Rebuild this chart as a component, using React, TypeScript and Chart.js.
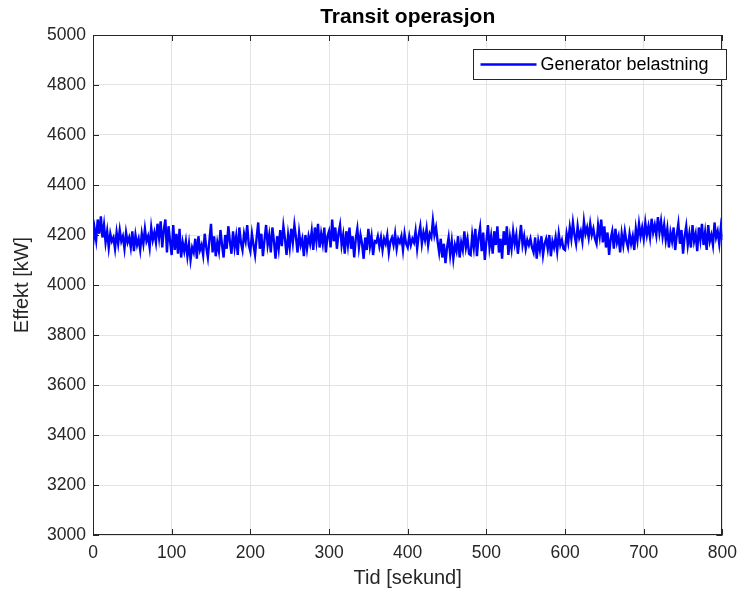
import React, { useEffect, useRef } from "react";
import { Chart, registerables } from "chart.js";

Chart.register(...registerables);

// Generator load, sampled every 2 seconds from 0 to 800 s
const SAMPLE_INTERVAL = 2;
const LOAD_KW: number[] = [
  4160, 4225, 4180, 4262, 4205, 4275, 4190, 4240, 4170, 4215, 4150, 4205, 4175, 4190, 4145, 4210, 4165, 4220, 4175, 4195,
  4145, 4210, 4170, 4190, 4150, 4215, 4135, 4200, 4160, 4185, 4140, 4205, 4165, 4225, 4175, 4195, 4150, 4230, 4180, 4210,
  4170, 4245, 4190, 4255, 4150, 4220, 4262, 4130, 4235, 4175, 4120, 4240, 4140, 4205, 4125, 4225, 4110, 4170, 4135, 4175,
  4115, 4165, 4100, 4150, 4130, 4185, 4105, 4195, 4140, 4160, 4120, 4205, 4150, 4110, 4180, 4245, 4130, 4195, 4115, 4170,
  4135, 4220, 4160, 4110, 4200, 4145, 4235, 4175, 4125, 4215, 4150, 4195, 4120, 4230, 4170, 4140, 4205, 4175, 4240, 4160,
  4135, 4205, 4160, 4120, 4190, 4250, 4145, 4205, 4115, 4180, 4240, 4160, 4200, 4130, 4230, 4175, 4105, 4195, 4145, 4220,
  4155, 4235, 4185, 4120, 4200, 4150, 4225, 4170, 4240, 4190, 4130, 4210, 4160, 4185, 4115, 4200, 4145, 4195, 4165, 4215,
  4140, 4230, 4175, 4245, 4150, 4205, 4165, 4230, 4130, 4195, 4215, 4150, 4262, 4175, 4230, 4145, 4205, 4240, 4160, 4200,
  4125, 4215, 4160, 4230, 4145, 4195, 4110, 4185, 4225, 4150, 4200, 4165, 4105, 4190, 4140, 4225, 4155, 4195, 4120, 4175,
  4170, 4195, 4155, 4190, 4140, 4185, 4165, 4200, 4130, 4175, 4190, 4160, 4205, 4145, 4185, 4170, 4195, 4140, 4205, 4165,
  4150, 4195, 4160, 4185, 4170, 4215, 4145, 4200, 4235, 4165, 4210, 4180, 4225, 4160, 4205, 4190, 4258, 4200, 4230, 4175,
  4130, 4185, 4110, 4165, 4087, 4150, 4190, 4120, 4175, 4105, 4160, 4135, 4195, 4110, 4170, 4140, 4215, 4150, 4185, 4125,
  4120, 4200, 4150, 4225, 4115, 4190, 4230, 4135, 4210, 4100, 4175, 4240, 4150, 4195, 4125, 4215, 4160, 4235, 4130, 4185,
  4105, 4215, 4160, 4235, 4120, 4190, 4145, 4215, 4165, 4200, 4125, 4180, 4240, 4160, 4195, 4145, 4180, 4160, 4185, 4150,
  4130, 4190, 4105, 4175, 4140, 4195, 4120, 4165, 4185, 4145, 4200, 4115, 4175, 4150, 4190, 4135, 4205, 4160, 4180, 4145,
  4140, 4205, 4170, 4230, 4185, 4250, 4200, 4165, 4235, 4190, 4215, 4175, 4255, 4205, 4230, 4190, 4245, 4200, 4225, 4185,
  4165, 4240, 4195, 4262, 4170, 4235, 4150, 4210, 4120, 4185, 4215, 4145, 4225, 4170, 4195, 4130, 4205, 4160, 4215, 4175,
  4150, 4205, 4165, 4195, 4140, 4225, 4180, 4245, 4195, 4230, 4185, 4250, 4200, 4235, 4190, 4265, 4210, 4240, 4200, 4272,
  4210, 4255, 4195, 4240, 4180, 4225, 4150, 4210, 4175, 4230, 4140, 4200, 4245, 4165, 4220, 4125, 4195, 4235, 4160, 4205,
  4150, 4240, 4175, 4205, 4135, 4230, 4180, 4245, 4160, 4210, 4140, 4240, 4175, 4200, 4160, 4250, 4190, 4215, 4165, 4230,
  4180,
];

const X_TICKS: number[] = [0, 100, 200, 300, 400, 500, 600, 700, 800];
const Y_TICKS: number[] = [3000, 3200, 3400, 3600, 3800, 4000, 4200, 4400, 4600, 4800, 5000];

const TITLE = "Transit operasjon";
const X_TITLE = "Tid [sekund]";
const Y_TITLE = "Effekt [kW]";
const SERIES_NAME = "Generator belastning";

const FONT = "'Liberation Sans', Arial, Helvetica, sans-serif";
const INK = "#262626";
const LINE_BLUE = "#0000ff";

// Title, boxed frame with inward tick marks, and legend
const decorations = {
  id: "decorations",
  afterDraw(chart: any) {
    const { ctx, chartArea } = chart;
    const { left, right, top, bottom } = chartArea;
    const xs = chart.scales.x;
    const ys = chart.scales.y;
    ctx.save();

    // title
    ctx.fillStyle = "#000";
    ctx.font = `bold 21px ${FONT}`;
    ctx.textAlign = "center";
    ctx.textBaseline = "middle";
    ctx.fillText(TITLE, (left + right) / 2, 17);

    // frame
    ctx.strokeStyle = INK;
    ctx.lineWidth = 1;
    ctx.strokeRect(Math.round(left) + 0.5, Math.round(top) + 0.5, Math.round(right - left) - 1, Math.round(bottom - top) - 1);

    // inward ticks
    const tl = 6;
    ctx.beginPath();
    X_TICKS.forEach((v) => {
      const px = Math.round(xs.getPixelForValue(v)) + 0.5;
      ctx.moveTo(px, bottom);
      ctx.lineTo(px, bottom - tl);
      ctx.moveTo(px, top);
      ctx.lineTo(px, top + tl);
    });
    Y_TICKS.forEach((v) => {
      const py = Math.round(ys.getPixelForValue(v)) + 0.5;
      ctx.moveTo(left, py);
      ctx.lineTo(left + tl, py);
      ctx.moveTo(right, py);
      ctx.lineTo(right - tl, py);
    });
    ctx.stroke();

    // legend
    const lx = 473.5;
    const ly = 49.5;
    const lw = 253;
    const lh = 30;
    ctx.fillStyle = "#fff";
    ctx.fillRect(lx, ly, lw, lh);
    ctx.strokeStyle = INK;
    ctx.lineWidth = 1;
    ctx.strokeRect(lx, ly, lw, lh);
    ctx.strokeStyle = LINE_BLUE;
    ctx.lineWidth = 2.4;
    ctx.beginPath();
    ctx.moveTo(lx + 7, ly + lh / 2);
    ctx.lineTo(lx + 63, ly + lh / 2);
    ctx.stroke();
    ctx.fillStyle = "#000";
    ctx.font = `18px ${FONT}`;
    ctx.textAlign = "left";
    ctx.textBaseline = "middle";
    ctx.fillText(SERIES_NAME, lx + 67, ly + lh / 2 + 1);

    ctx.restore();
  },
};

export default function App() {
  const canvasRef = useRef<HTMLCanvasElement | null>(null);

  useEffect(() => {
    const canvas = canvasRef.current;
    if (!canvas) return;
    const points = LOAD_KW.map((y, i) => ({ x: i * SAMPLE_INTERVAL, y }));

    const chart = new Chart(canvas, {
      type: "line",
      data: {
        datasets: [
          {
            label: SERIES_NAME,
            data: points,
            borderColor: LINE_BLUE,
            borderWidth: 2.4,
            pointRadius: 0,
            tension: 0,
            fill: false,
          },
        ],
      },
      options: {
        responsive: false,
        animation: false,
        events: [],
        layout: { padding: { top: 35, right: 18, left: 0, bottom: 0 } },
        plugins: {
          legend: { display: false },
          title: { display: false },
          tooltip: { enabled: false },
        },
        scales: {
          x: {
            type: "linear",
            min: 0,
            max: 800,
            afterBuildTicks: (s: any) => {
              s.ticks = X_TICKS.map((value) => ({ value }));
            },
            afterFit: (s: any) => {
              s.height = 61;
            },
            ticks: {
              font: { family: FONT, size: 17.5 },
              color: INK,
              padding: 8,
              maxRotation: 0,
              callback: (v: any) => String(v),
            },
            grid: { color: "#e3e3e3", drawTicks: false },
            border: { display: false },
            title: {
              display: true,
              text: X_TITLE,
              color: INK,
              font: { family: FONT, size: 20 },
              padding: { top: 0, bottom: 6 },
            },
          },
          y: {
            type: "linear",
            min: 3000,
            max: 5000,
            afterBuildTicks: (s: any) => {
              s.ticks = Y_TICKS.map((value) => ({ value }));
            },
            afterFit: (s: any) => {
              s.width = 93;
            },
            ticks: {
              font: { family: FONT, size: 17.5 },
              color: INK,
              padding: 7,
              callback: (v: any) => String(v),
            },
            grid: { color: "#e3e3e3", drawTicks: false },
            border: { display: false },
            title: {
              display: true,
              text: Y_TITLE,
              color: INK,
              font: { family: FONT, size: 20 },
              padding: { top: 10, bottom: 0 },
            },
          },
        },
      },
      plugins: [decorations],
    });

    return () => chart.destroy();
  }, []);

  return (
    <div style={{ position: "fixed", left: 0, top: 0, width: 745, height: 596, background: "#fff" }}>
      <canvas ref={canvasRef} width={745} height={596} />
    </div>
  );
}
